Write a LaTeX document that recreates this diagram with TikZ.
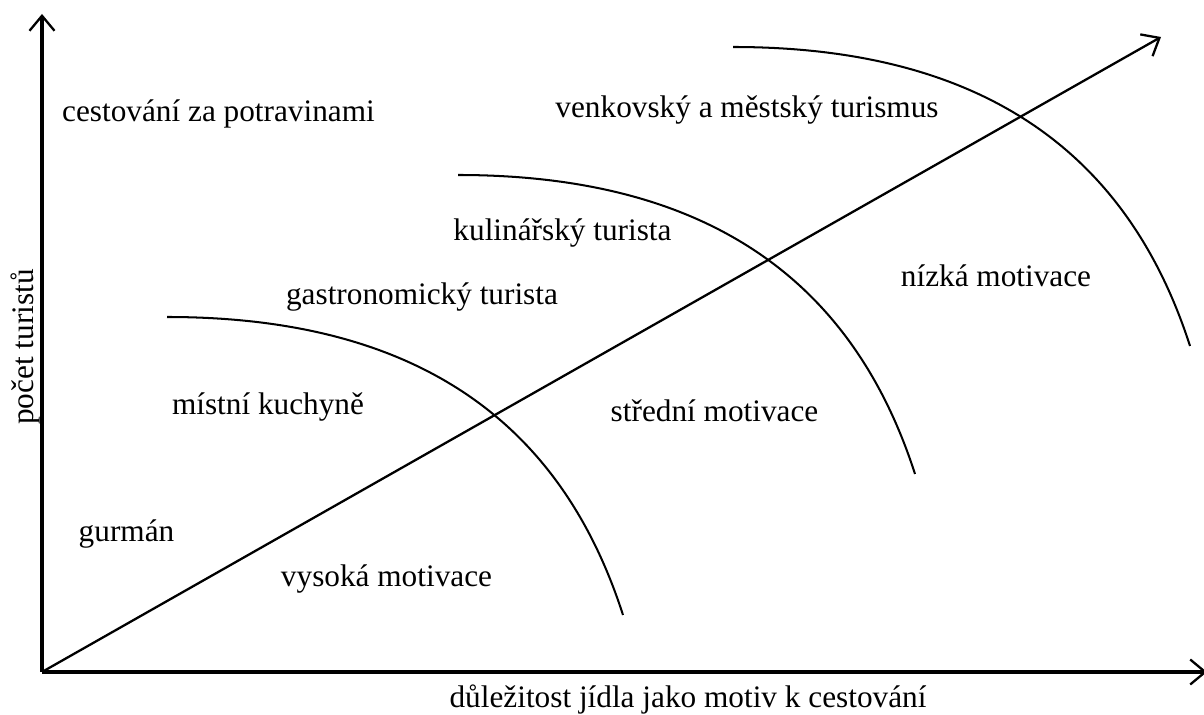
\documentclass[tikz,border=0pt]{standalone}
\usepackage{fontspec}
\setmainfont{Liberation Serif}
\usepackage{tikz}
\usetikzlibrary{arrows.meta}

\begin{document}
\begin{tikzpicture}[x=0.02cm, y=-0.02cm,
    axis/.style={line width=1.8pt, -{Straight Barb[length=3mm, width=5mm, line width=1.3pt]}},
    diag/.style={line width=1.3pt, -{Straight Barb[length=3mm, width=5mm, line width=1.3pt]}},
    zone/.style={line width=1.15pt},
    lbl/.style={font=\fontsize{17.8pt}{21pt}\selectfont, inner sep=0pt, anchor=base}]
    \useasboundingbox (0, 0) rectangle (1204, 715); % REMOVE ME
    \coordinate (O) at (42, 672);
    \coordinate (ytop) at (42, 14);
    \coordinate (xend) at (1207, 672);
    \coordinate (dtip) at (1161, 37);
    \coordinate (s1) at (167, 317);  \coordinate (e1) at (623, 615);
    \coordinate (s2) at (458, 175);  \coordinate (e2) at (915, 474);
    \coordinate (s3) at (733, 47);   \coordinate (e3) at (1190, 346);
    \draw[axis] (O) -- (ytop);
    \draw[axis] (O) -- (xend);
    \draw[diag] (O) -- (dtip);
    \foreach \i in {1,2,3}
        \draw[zone] (s\i) .. controls +(265, 0) and +(-58, -180) .. (e\i);
    \node[lbl] (potraviny) at (218.5, 122) {cestování za potravinami};
    \node[lbl] (venkov) at (747, 118) {venkovský a městský turismus};
    \node[lbl] (kulinar) at (562.5, 241) {kulinářský turista};
    \node[lbl] (gastro) at (422, 305) {gastronomický turista};
    \node[lbl] (mistni) at (268, 415) {místní kuchyně};
    \node[lbl] (gurman) at (126.5, 542) {gurmán};
    \node[lbl] (vysoka) at (386.5, 587) {vysoká motivace};
    \node[lbl] (stredni) at (714.5, 422) {střední motivace};
    \node[lbl] (nizka) at (996, 287) {nízká motivace};
    \node[lbl] (xlabel) at (688, 708) {důležitost jídla jako motiv k cestování};
    \node[lbl, rotate=90] (ylabel) at (33, 347) {počet turistů};
\end{tikzpicture}
\end{document}
